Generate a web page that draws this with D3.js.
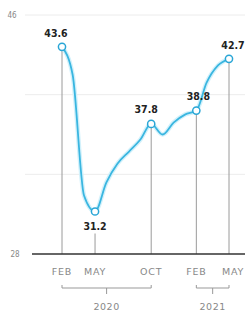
<!DOCTYPE html>
<html><head><meta charset="utf-8">
<script src="https://cdn.jsdelivr.net/npm/d3@7"></script>
<style>body{margin:0;background:#fff}svg{display:block}</style>
</head><body>
<script>
const months = ["2020-02","2020-03","2020-04","2020-05","2020-06","2020-07","2020-08","2020-09","2020-10","2020-11","2020-12","2021-01","2021-02","2021-03","2021-04","2021-05"];
const values = [43.6,41.5,32.4,31.2,33.4,34.8,35.7,36.6,37.8,37.0,37.9,38.5,38.8,40.9,42.2,42.7];
const labelled = ["2020-02","2020-05","2020-10","2021-02","2021-05"];
const tickLabels = ["FEB","MAY","OCT","FEB","MAY"];
const yTicks = [28,34,40,46];
const yLabels = ["28","","","46"];
const years = [{name:"2020",from:"2020-02",to:"2020-10"},{name:"2021",from:"2021-02",to:"2021-05"}];

const W=245,H=317;
const parse=d3.timeParse("%Y-%m");
const data=months.map((m,i)=>({d:parse(m),v:values[i],k:m}));
const svg=d3.select("body").append("svg").attr("width",W).attr("height",H);
const x=d3.scaleTime().domain([parse("2020-02"),parse("2021-05")]).range([62,229]);
const y=d3.scaleLinear().domain([28,46]).range([254,15]);
const font="'DejaVu Sans Condensed','Liberation Sans Narrow',sans-serif";
const font2="'DejaVu Sans',sans-serif";

// gridlines
svg.append("g").selectAll("line").data(yTicks.slice(1)).join("line")
  .attr("x1",25).attr("x2",W).attr("y1",d=>y(d)).attr("y2",d=>y(d))
  .attr("stroke","#ececec").attr("stroke-width",1);
svg.append("g").selectAll("text").data(yTicks).join("text")
  .attr("x",(d,i)=>i===0?15:12).attr("y",d=>y(d)+3).attr("text-anchor","middle")
  .attr("font-family",font).attr("font-size",8).attr("fill","#888")
  .text((d,i)=>yLabels[i]);

// vertical droplines
const pts=data.filter(d=>labelled.includes(d.k));
svg.append("g").selectAll("line").data(pts).join("line")
  .attr("x1",d=>x(d.d)).attr("x2",d=>x(d.d))
  .attr("y1",(d,i)=>i===1?y(d.v)+22:y(d.v)).attr("y2",254)
  .attr("stroke","#9a9a9a").attr("stroke-width",1);

// axis
svg.append("line").attr("x1",32).attr("x2",W).attr("y1",254).attr("y2",254)
  .attr("stroke","#333").attr("stroke-width",1.6);

// line
const line=d3.line().x(d=>x(d.d)).y(d=>y(d.v)).curve(d3.curveMonotoneX);
svg.append("path").datum(data).attr("d",line).attr("fill","none")
  .attr("stroke","#d2f1fb").attr("stroke-width",4.5).attr("stroke-linejoin","round");
svg.append("path").datum(data).attr("d",line).attr("fill","none")
  .attr("stroke","#3ab6e0").attr("stroke-width",1.8).attr("stroke-linejoin","round");
svg.append("g").selectAll("circle").data(pts).join("circle")
  .attr("cx",d=>x(d.d)).attr("cy",d=>y(d.v)).attr("r",3.6)
  .attr("fill","#fff").attr("stroke","#2aa6d6").attr("stroke-width",1.5);

// value labels
const offs=[[-6,-10],[0,18],[-5,-11],[2,-11],[4,-10]];
svg.append("g").selectAll("text").data(pts).join("text")
  .attr("x",(d,i)=>x(d.d)+offs[i][0]).attr("y",(d,i)=>y(d.v)+offs[i][1])
  .attr("text-anchor","middle").attr("font-family",font).attr("font-weight","bold")
  .attr("font-size",10.5).attr("fill","#222").text(d=>d.v.toFixed(1));

// x tick labels
svg.append("g").selectAll("text").data(pts).join("text")
  .attr("x",(d,i)=>x(d.d)+(i===4?4:0)).attr("y",275).attr("text-anchor","middle")
  .attr("font-family",font2).attr("font-size",9.5).attr("letter-spacing",0.8).attr("fill","#888")
  .text((d,i)=>tickLabels[i]);

// year brackets
years.forEach(yr=>{
  const a=x(parse(yr.from)),b=x(parse(yr.to)),m=(a+b)/2;
  svg.append("path").attr("d",`M${a},285 L${a},288 L${b},288 L${b},285 M${m},288 L${m},294`)
    .attr("fill","none").attr("stroke","#999").attr("stroke-width",1);
  svg.append("text").attr("x",m).attr("y",310).attr("text-anchor","middle")
    .attr("font-family",font2).attr("font-size",9.5).attr("letter-spacing",0.5).attr("fill","#888").text(yr.name);
});
</script>
</body></html>
